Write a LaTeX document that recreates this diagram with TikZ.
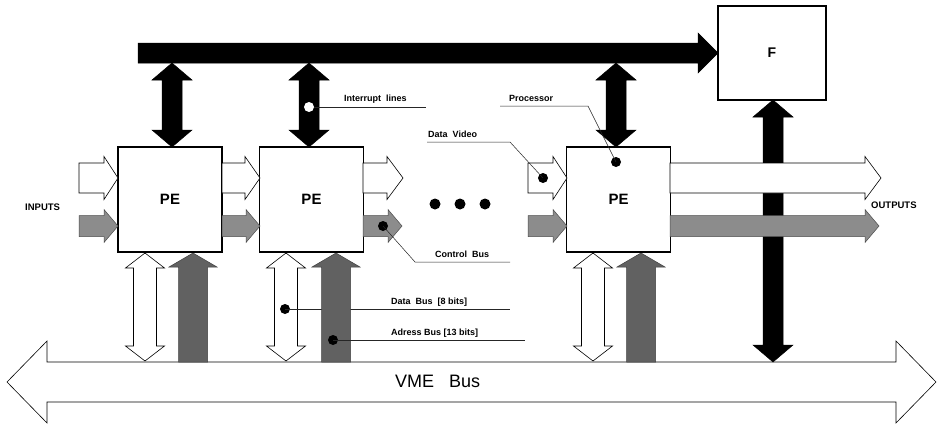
\documentclass[tikz,border=0pt]{standalone}
\usepackage{fontspec}
\setmainfont{Liberation Sans}
% fat arrow shapes
\newcommand\fatR[7]{% style, x1, xtip, yc, shaft half, head half, head length
  \path[#1] ({#2},{#4-#5}) -- ({#3-#7},{#4-#5}) -- ({#3-#7},{#4-#6}) -- ({#3},{#4})
    -- ({#3-#7},{#4+#6}) -- ({#3-#7},{#4+#5}) -- ({#2},{#4+#5}) -- cycle;}
\newcommand\fatLR[7]{% style, xl tip, xr tip, yc, s, H, h
  \path[#1] ({#2},{#4}) -- ({#2+#7},{#4-#6}) -- ({#2+#7},{#4-#5}) -- ({#3-#7},{#4-#5})
    -- ({#3-#7},{#4-#6}) -- ({#3},{#4}) -- ({#3-#7},{#4+#6}) -- ({#3-#7},{#4+#5})
    -- ({#2+#7},{#4+#5}) -- ({#2+#7},{#4+#6}) -- cycle;}
\newcommand\fatU[7]{% style, xc, ybottom, ytip, s, H, h
  \path[#1] ({#2-#5},{#3}) -- ({#2-#5},{#4+#7}) -- ({#2-#6},{#4+#7}) -- ({#2},{#4})
    -- ({#2+#6},{#4+#7}) -- ({#2+#5},{#4+#7}) -- ({#2+#5},{#3}) -- cycle;}
\newcommand\fatUD[7]{% style, xc, ytop, ybottom, s, H, h
  \path[#1] ({#2},{#3}) -- ({#2+#6},{#3+#7}) -- ({#2+#5},{#3+#7}) -- ({#2+#5},{#4-#7})
    -- ({#2+#6},{#4-#7}) -- ({#2},{#4}) -- ({#2-#6},{#4-#7}) -- ({#2-#5},{#4-#7})
    -- ({#2-#5},{#3+#7}) -- ({#2-#6},{#3+#7}) -- cycle;}
\begin{document}
\begin{tikzpicture}[x=1pt,y=-1pt,
  whitearrow/.style={fill=white, draw=black, line width=0.6pt},
  grayarrow/.style={fill=black!45, draw=black!70, line width=0.5pt},
  addrarrow/.style={fill=black!62, draw=black!75, line width=0.5pt},
  blackarrow/.style={fill=black, draw=black, line width=0.5pt},
  pebox/.style={draw, line width=1.6pt, fill=white, minimum width=104pt,
    minimum height=105pt, inner sep=0pt, font=\fontsize{15}{15}\selectfont\bfseries},
  lbl/.style={font=\fontsize{9}{10}\selectfont\bfseries, inner sep=0pt, anchor=base west},
  leader/.style={line width=0.5pt, draw=gray!30!black},
  bdot/.style={circle, fill=black, inner sep=0pt, minimum size=10pt},
  wdot/.style={circle, fill=white, inner sep=0pt, minimum size=10pt}]
\path[use as bounding box, fill=white] (0,0) rectangle (937,423);

% VME bus
\fatLR{whitearrow}{7}{936}{382}{20}{41}{40}
\node[inner sep=0pt, anchor=west, font=\fontsize{18}{18}\selectfont] (vme) at (395,381) {VME\ \ \ Bus};

% F <-> VME arrow
\fatUD{blackarrow}{773}{100}{362}{10}{20}{17}

% top bus to F
\fatR{blackarrow}{138}{718}{53}{10}{20}{20}

% vertical black double arrows (interrupt lines)
\fatUD{blackarrow}{172}{63}{147}{10}{20}{17}
\fatUD{blackarrow}{309}{63}{147}{10}{20}{17}
\fatUD{blackarrow}{616}{63}{147}{10}{20}{17}

% data bus double arrows
\fatUD{whitearrow}{145}{253}{361}{11.5}{19.5}{15}
\fatUD{whitearrow}{286}{253}{361}{11.5}{19.5}{15}
\fatUD{whitearrow}{593}{253}{361}{11.5}{19.5}{15}

% data bus leader (behind address arrow)
\node[bdot] (dbdot) at (285,309) {};
\coordinate (dbend) at (510,309);
\draw[leader] (dbdot.center) -- (dbend);

% address bus arrows
\fatU{addrarrow}{193}{362}{253}{14.5}{24}{14}
\fatU{addrarrow}{336}{362}{253}{14.5}{24}{14}
\fatU{addrarrow}{641}{362}{253}{14.5}{24}{14}

% boxes
\node[pebox] (pe1) at (170,199.5) {PE};
\node[pebox] (pe2) at (311.5,199.5) {PE};
\node[pebox] (pe3) at (618.5,199.5) {PE};
\node[draw, line width=1.4pt, fill=white, minimum width=108pt, minimum height=94pt,
  inner sep=0pt, font=\fontsize{14}{14}\selectfont\bfseries] (f) at (772,53) {F};

% data video (white) arrows
\fatR{whitearrow}{79}{118}{178}{15}{21.5}{14}
\fatR{whitearrow}{222}{260}{178}{15}{21.5}{15}
\fatR{whitearrow}{363}{403}{178}{15}{21.5}{16}
\fatR{whitearrow}{528}{567}{178}{15}{21.5}{14}
\fatR{whitearrow}{670}{881}{178}{15}{21.5}{16}

% control bus (gray) arrows
\fatR{grayarrow}{79}{118}{226}{10.5}{16.5}{14}
\fatR{grayarrow}{222}{260}{226}{10.5}{16.5}{14}
\fatR{grayarrow}{363}{402}{226}{10.5}{16.5}{14}
\fatR{grayarrow}{528}{567}{226}{10.5}{16.5}{14}
\fatR{grayarrow}{670}{879}{226}{10.5}{16.5}{14}

% ellipsis dots
\node[bdot, minimum size=11pt] (e1) at (435,204) {};
\node[bdot, minimum size=11pt] (e2) at (460,204) {};
\node[bdot, minimum size=11pt] (e3) at (485,204) {};

% interrupt lines label
\node[wdot] (irdot) at (309,107) {};
\coordinate (irend) at (426,107);
\draw[leader] (irdot.east) -- (irend);
\node[lbl] (irl) at (344,101) {Interrupt\ \ lines};

% data video label
\node[bdot] (dvdot) at (543,178) {};
\coordinate (dva) at (427,142);
\coordinate (dvb) at (510,142);
\draw[leader] (dva) -- (dvb) -- (dvdot.center);
\node[lbl] (dvl) at (428,137) {Data\ \ Video};

% processor label
\node[bdot] (prdot) at (616,162) {};
\coordinate (pra) at (500,106);
\coordinate (prb) at (588,106);
\draw[leader] (pra) -- (prb) -- (prdot.center);
\node[lbl] (prl) at (509,101) {Processor};

% control bus label
\node[bdot] (cbdot) at (383,226) {};
\coordinate (cba) at (415,262);
\coordinate (cbb) at (510,262);
\draw[leader] (cbdot.center) -- (cba) -- (cbb);
\node[lbl] (cbl) at (435,257) {Control\ \ Bus};

% data bus label
\node[lbl] (dbl) at (391,304) {Data\ \ Bus\ \ [8 bits]};

% address bus label
\node[bdot] (abdot) at (333,340) {};
\coordinate (abend) at (525,340);
\draw[leader] (abdot.center) -- (abend);
\node[lbl] (abl) at (391,335) {Adress Bus [13 bits]};

% inputs / outputs
\node[inner sep=0pt, anchor=west, font=\fontsize{9.5}{10}\selectfont\bfseries] (inp) at (25,207) {INPUTS};
\node[inner sep=0pt, anchor=west, font=\fontsize{9.5}{10}\selectfont\bfseries] (outp) at (871,205) {OUTPUTS};
\end{tikzpicture}
\end{document}
